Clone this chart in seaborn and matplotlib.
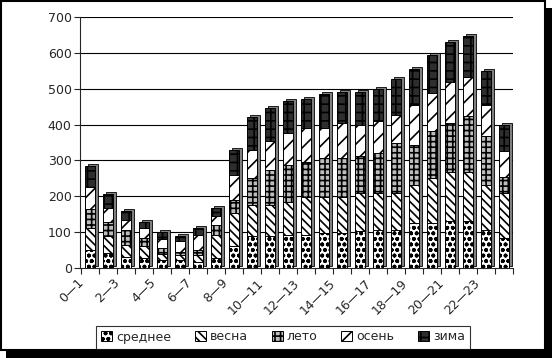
import numpy as np
import pandas as pd
import matplotlib
matplotlib.use("Agg")
import matplotlib.pyplot as plt
import matplotlib.transforms as mtransforms
from matplotlib.patches import Patch, Rectangle
import seaborn as sns

hours = [f"{h}—{h+1}" for h in range(24)]
srednee = [50, 42, 32, 28, 22, 23, 18, 28, 60, 88, 88, 93, 93, 97, 97, 102, 107, 107, 125, 125, 130, 130, 107, 83]
vesna = [61, 48, 33, 32, 18, 14, 19, 65, 93, 88, 88, 92, 106, 102, 102, 107, 102, 102, 107, 126, 139, 139, 125, 126]
leto = [54, 39, 41, 24, 16, 9, 14, 27, 37, 75, 98, 103, 98, 107, 107, 102, 111, 139, 112, 130, 135, 154, 135, 46]
osen = [60, 39, 28, 28, 26, 28, 42, 24, 70, 79, 79, 88, 93, 84, 98, 89, 89, 79, 111, 107, 116, 111, 88, 70]
zima = [60, 37, 26, 15, 18, 16, 18, 24, 70, 91, 94, 89, 80, 95, 88, 90, 91, 99, 99, 105, 111, 112, 95, 75]
series_names = ["среднее", "весна", "лето", "осень", "зима"]
yticks = [0, 100, 200, 300, 400, 500, 600, 700]

sns.set_style("white")
plt.rcParams["font.family"] = ["DejaVu Sans"]
plt.rcParams["hatch.linewidth"] = 1.2

series = [srednee, vesna, leto, osen, zima]
df = pd.DataFrame({"hour": hours})
cum = np.cumsum(np.array(series), axis=0)
for name, c in zip(series_names, cum):
    df[name] = c

styles = {
    "среднее": dict(color="white", hatch="ooo"),
    "весна": dict(color="white", hatch="\\\\\\\\"),
    "лето": dict(color="#bdbdbd", hatch="+++"),
    "осень": dict(color="white", hatch="//"),
    "зима": dict(color="#2e2e2e", hatch="++"),
}

fig = plt.figure(figsize=(5.52, 3.58), dpi=100)
ax = fig.add_axes([80/552, 90/358, (513-80)/552, 251/358])

# 3D-like side shadow for bars
shadow = mtransforms.offset_copy(ax.transData, fig=fig, x=3, y=2, units="dots")
ax.bar(np.arange(len(hours)), df["зима"], width=0.6, color="#808080",
       edgecolor="black", linewidth=0.6, transform=shadow, zorder=1)

for name in reversed(series_names):
    st = styles[name]
    sns.barplot(data=df, x="hour", y=name, ax=ax, color=st["color"], saturation=1,
                hatch=st["hatch"], edgecolor="black", linewidth=0.7, width=0.6,
                errorbar=None, zorder=2)

ax.set_xlim(-0.55, 23.4)
ax.set_ylim(0, 700)
ax.set_yticks(yticks)
ax.set_yticklabels([str(v) for v in yticks], fontsize=9)
ax.set_xlabel("")
ax.set_ylabel("")
for v in yticks[1:]:
    ax.axhline(v, color="black", linewidth=0.8, zorder=0)
for s in ["top", "right"]:
    ax.spines[s].set_visible(False)
ax.spines["left"].set_linewidth(0.8)
ax.spines["bottom"].set_linewidth(0.8)
ax.tick_params(axis="y", length=4, width=0.8, direction="out", left=True, pad=2)
ax.set_xticks(np.arange(len(hours)))
ax.set_xticklabels([h if i % 2 == 0 else "" for i, h in enumerate(hours)],
                   rotation=45, ha="right", rotation_mode="anchor", fontsize=9)
ax.tick_params(axis="x", length=0, pad=6)
for lab in ax.get_xticklabels():
    lab.set_transform(lab.get_transform() + mtransforms.ScaledTranslation(-13/100, 0, fig.dpi_scale_trans))
# boundary ticks
ax.set_xticks(np.arange(len(hours) + 1) - 0.5, minor=True)
ax.tick_params(axis="x", which="minor", length=4, width=0.8, direction="out", bottom=True)

handles = [Patch(facecolor=styles[n]["color"], hatch=styles[n]["hatch"], edgecolor="black", linewidth=0.7)
           for n in series_names]
leg = fig.legend(handles, series_names, loc="center", bbox_to_anchor=(283/552, 21/358), ncol=5,
                 frameon=True, fancybox=False, edgecolor="black", fontsize=9,
                 handlelength=0.9, handleheight=0.9, handletextpad=0.3, columnspacing=1.9,
                 borderpad=0.4)
leg.get_frame().set_linewidth(0.8)

# outer frame with shadow
fig.patches.append(Rectangle((6/552, 0), 546/552, 8/358, transform=fig.transFigure,
                             facecolor="black", edgecolor="none", zorder=0))
fig.patches.append(Rectangle((544/552, 0), 8/552, 350/358, transform=fig.transFigure,
                             facecolor="black", edgecolor="none", zorder=0))
fig.patches.append(Rectangle((1/552, 8/358), 544/552, 349/358, transform=fig.transFigure,
                             facecolor="none", edgecolor="black", linewidth=1.5, zorder=0))

fig.savefig("out.png", dpi=100)
